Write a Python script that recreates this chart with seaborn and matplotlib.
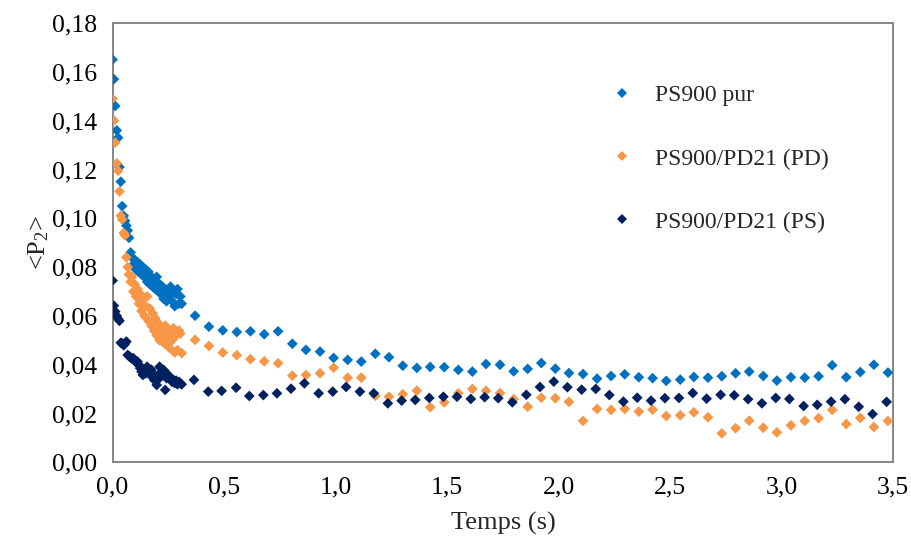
import matplotlib
matplotlib.use("Agg")
import matplotlib.pyplot as plt
from matplotlib.lines import Line2D
import seaborn as sns
import pandas as pd

# ---- data ---------------------------------------------------------------
# fast acquisition (first 0.31 s), shared by the three series
t_fast = [0.000, 0.006, 0.012, 0.019, 0.025, 0.031, 0.037, 0.043, 0.050, 0.056,
          0.062, 0.068, 0.074, 0.081, 0.087, 0.093, 0.099, 0.105, 0.112, 0.118,
          0.124, 0.130, 0.136, 0.143, 0.149, 0.155, 0.161, 0.167, 0.174, 0.180,
          0.186, 0.192, 0.198, 0.205, 0.211, 0.217, 0.223, 0.229, 0.236, 0.242,
          0.248, 0.254, 0.260, 0.267, 0.273, 0.279, 0.285, 0.291, 0.298, 0.304,
          0.310]

# slow acquisition
t_slow = [0.370, 0.432, 0.494, 0.557, 0.618, 0.680, 0.742, 0.806, 0.867, 0.930,
          0.991, 1.054, 1.115, 1.178, 1.239, 1.301, 1.364, 1.424, 1.487, 1.550,
          1.613, 1.674, 1.737, 1.798, 1.861, 1.922, 1.985, 2.046, 2.109, 2.172,
          2.235, 2.296, 2.359, 2.421, 2.482, 2.545, 2.606, 2.669, 2.731, 2.793,
          2.854, 2.917, 2.978, 3.041, 3.103, 3.165, 3.226, 3.289, 3.352, 3.413,
          3.476]
t_slow_ps = [0.365, 0.429, 0.489, 0.554, 0.613, 0.676, 0.737, 0.800, 0.860, 0.924,
             0.987, 1.047, 1.109, 1.171, 1.234, 1.296, 1.357, 1.420, 1.483, 1.544,
             1.606, 1.668, 1.729, 1.792, 1.855, 1.916, 1.978, 2.039, 2.103, 2.166,
             2.227, 2.290, 2.352, 2.414, 2.476, 2.539, 2.601, 2.663, 2.726, 2.787,
             2.849, 2.911, 2.973, 3.034, 3.098, 3.159, 3.221, 3.283, 3.345, 3.407,
             3.470]

pur_fast = [0.165, 0.157, 0.146, 0.136, 0.133, 0.121, 0.115, 0.105, 0.101, 0.099,
            0.097, 0.095, 0.092, 0.086, 0.084, 0.081, 0.083, 0.079, 0.082, 0.078,
            0.081, 0.077, 0.080, 0.076, 0.079, 0.074, 0.078, 0.073, 0.076, 0.072,
            0.075, 0.071, 0.076, 0.070, 0.073, 0.069, 0.072, 0.067, 0.071, 0.066,
            0.070, 0.068, 0.072, 0.066, 0.070, 0.064, 0.069, 0.071, 0.065, 0.068,
            0.065]
pur_slow = [0.0601, 0.0556, 0.0541, 0.0534, 0.0537, 0.0525, 0.0537, 0.0486, 0.0461, 0.0454,
            0.0428, 0.0420, 0.0413, 0.0445, 0.0431, 0.0396, 0.0387, 0.0391, 0.0390, 0.0379,
            0.0372, 0.0403, 0.0400, 0.0373, 0.0383, 0.0407, 0.0384, 0.0366, 0.0362, 0.0343,
            0.0354, 0.0361, 0.0349, 0.0345, 0.0334, 0.0339, 0.0350, 0.0347, 0.0353, 0.0365,
            0.0372, 0.0354, 0.0335, 0.0349, 0.0347, 0.0353, 0.0398, 0.0349, 0.0370, 0.0400,
            0.0368]

pd_fast = [0.149, 0.140, 0.131, 0.1225, 0.1195, 0.111, 0.101, 0.0995, 0.094, 0.093,
           0.084, 0.080, 0.077, 0.074, 0.076, 0.070, 0.073, 0.068, 0.071, 0.065,
           0.069, 0.062, 0.067, 0.060, 0.064, 0.068, 0.058, 0.063, 0.056, 0.061,
           0.054, 0.059, 0.052, 0.057, 0.050, 0.055, 0.053, 0.049, 0.056, 0.051,
           0.054, 0.047, 0.053, 0.050, 0.055, 0.045, 0.052, 0.046, 0.054, 0.0528,
           0.0448]
pd_slow = [0.0502, 0.0477, 0.0450, 0.0439, 0.0423, 0.0414, 0.0406, 0.0355, 0.0358, 0.0365,
           0.0388, 0.0347, 0.0347, 0.0273, 0.0269, 0.0279, 0.0294, 0.0226, 0.0246, 0.0283,
           0.0301, 0.0293, 0.0284, 0.0259, 0.0228, 0.0265, 0.0263, 0.0248, 0.0170, 0.0219,
           0.0215, 0.0219, 0.0208, 0.0216, 0.0190, 0.0193, 0.0205, 0.0185, 0.0119, 0.0140,
           0.0171, 0.0142, 0.0123, 0.0152, 0.0170, 0.0181, 0.0215, 0.0157, 0.0182, 0.0145,
           0.0170]

ps_fast = [0.0745, 0.0642, 0.0618, 0.0600, 0.0588, 0.0580, 0.0490, 0.0488, 0.0480, 0.0486,
           0.0495, 0.0440, 0.0435, 0.0430, 0.0425, 0.0427, 0.0420, 0.0410, 0.0413, 0.0400,
           0.0386, 0.0372, 0.0358, 0.0380, 0.0365, 0.0392, 0.0372, 0.0360, 0.0380, 0.0350,
           0.0338, 0.0355, 0.0317, 0.0340, 0.0392, 0.0370, 0.0358, 0.0379, 0.0297, 0.0345,
           0.0360, 0.0350, 0.0340, 0.0330, 0.0338, 0.0325, 0.0335, 0.0320, 0.0330, 0.0324,
           0.0320]
ps_slow = [0.0338, 0.0290, 0.0293, 0.0306, 0.0272, 0.0276, 0.0283, 0.0302, 0.0324, 0.0283,
           0.0290, 0.0309, 0.0290, 0.0283, 0.0242, 0.0253, 0.0256, 0.0264, 0.0269, 0.0269,
           0.0260, 0.0267, 0.0263, 0.0246, 0.0277, 0.0309, 0.0331, 0.0308, 0.0298, 0.0301,
           0.0276, 0.0249, 0.0265, 0.0253, 0.0263, 0.0264, 0.0284, 0.0261, 0.0277, 0.0275,
           0.0259, 0.0242, 0.0264, 0.0260, 0.0231, 0.0236, 0.0249, 0.0259, 0.0228, 0.0198,
           0.0248]

series_names = ["PS900 pur", "PS900/PD21 (PD)", "PS900/PD21 (PS)"]
series_colors = ["#0070C0", "#F79646", "#002060"]

x_ticks = [0.0, 0.5, 1.0, 1.5, 2.0, 2.5, 3.0, 3.5]
x_tick_labels = ["0,0", "0,5", "1,0", "1,5", "2,0", "2,5", "3,0", "3,5"]
y_ticks = [0.00, 0.02, 0.04, 0.06, 0.08, 0.10, 0.12, 0.14, 0.16, 0.18]
y_tick_labels = ["0,00", "0,02", "0,04", "0,06", "0,08", "0,10", "0,12", "0,14", "0,16", "0,18"]

# ---- long-form table ----------------------------------------------------
frames = []
for name, t_s, fast, slow in [
    (series_names[0], t_slow, pur_fast, pur_slow),
    (series_names[1], t_slow, pd_fast, pd_slow),
    (series_names[2], t_slow_ps, ps_fast, ps_slow),
]:
    frames.append(pd.DataFrame({"t": t_fast + t_s, "p2": fast + slow, "serie": name}))
df = pd.concat(frames, ignore_index=True)

# ---- style ----------------------------------------------------------------
sns.set_style("white")
plt.rcParams["font.family"] = ["Liberation Serif", "DejaVu Serif"]
plt.rcParams["mathtext.fontset"] = "custom"
plt.rcParams["mathtext.rm"] = "Liberation Serif"
plt.rcParams["mathtext.it"] = "Liberation Serif:italic"

fig = plt.figure(figsize=(9.12, 5.46), dpi=100)
ax = fig.add_axes([0.1234, 0.1531, 0.8561, 0.8048])

sns.scatterplot(data=df, x="t", y="p2", hue="serie", hue_order=series_names,
                palette=series_colors, marker="D", s=30, linewidth=0,
                legend=False, ax=ax, zorder=3)

ax.set_xlim(0, 3.5)
ax.set_ylim(0, 0.18)
ax.set_xticks(x_ticks)
ax.set_xticklabels(x_tick_labels)
ax.set_xticks([i / 10 for i in range(36)], minor=True)
ax.set_yticks(y_ticks)
ax.set_yticklabels(y_tick_labels)

grey = "#868686"
for sp in ax.spines.values():
    sp.set_color(grey)
    sp.set_linewidth(1.4)
ax.tick_params(axis="both", which="both", direction="out", color=grey,
               width=1.2, labelsize=18.5, labelcolor="black")
ax.tick_params(axis="x", which="major", length=5, pad=5)
ax.tick_params(axis="x", which="minor", length=5)
ax.tick_params(axis="y", which="major", length=5, pad=6)
ax.tick_params(top=False, right=False)

ax.set_xlabel("Temps (s)", fontsize=19, labelpad=10)
ax.set_ylabel(r"<P$_\mathregular{2}$>", fontsize=19, labelpad=1)

handles = [Line2D([], [], linestyle="none", marker="D", markersize=5.5,
                  markerfacecolor=c, markeredgewidth=0) for c in series_colors]
ax.legend(handles, series_names, loc="upper left", bbox_to_anchor=(0.64, 0.859),
          frameon=False, fontsize=17, labelspacing=1.76, handletextpad=1.0,
          handlelength=0.8, borderpad=0, borderaxespad=0)

fig.savefig("out.png", dpi=100)
